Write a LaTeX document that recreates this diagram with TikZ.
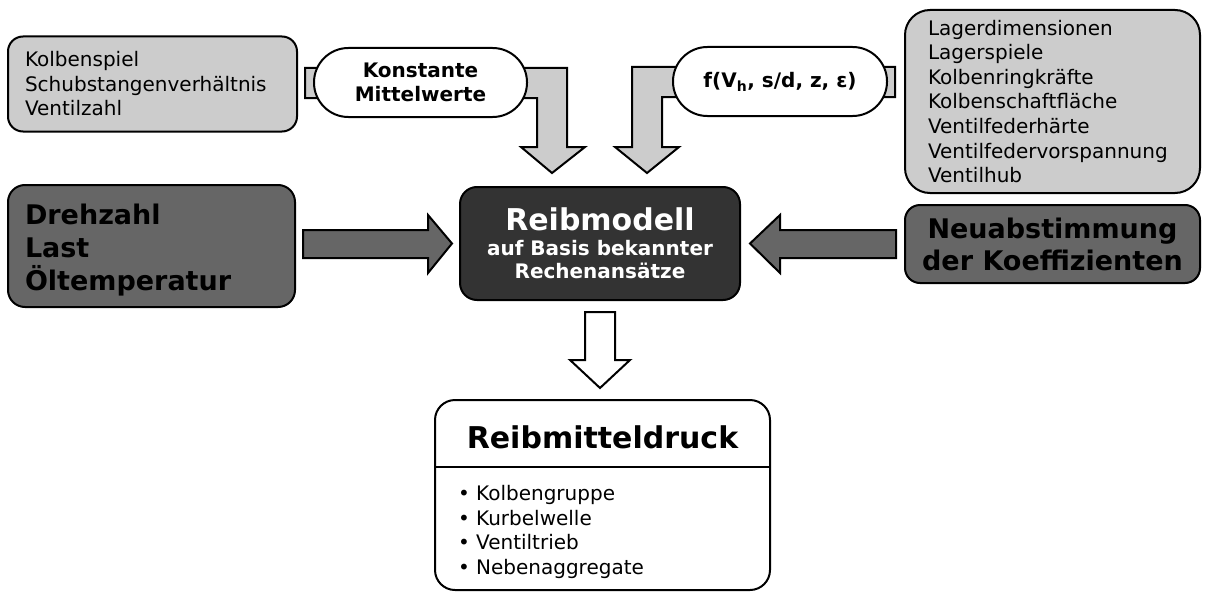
\documentclass[tikz,border=0pt]{standalone}
\usepackage{fontspec}
\setmainfont{DejaVu Sans}
\usetikzlibrary{calc}
\definecolor{lgray}{HTML}{CCCCCC}
\definecolor{mgray}{HTML}{666666}
\definecolor{dgray}{HTML}{333333}
\begin{document}
\begin{tikzpicture}[x=0.75pt,y=-0.75pt,line width=1.5pt,line join=miter,
  box/.style={draw=black,rectangle,inner ysep=0pt},
  smalltxt/.style={font=\fontsize{15}{18.4}\selectfont},
  bigtxt/.style={font=\bfseries\fontsize{20.25}{24.75}\selectfont},
  pill/.style={draw=black,fill=white,rectangle,minimum height=51.75pt,rounded corners=25.8pt,align=center,font=\bfseries\fontsize{15}{18}\selectfont,inner sep=0pt},
  blockarrow/.style={draw=black,line width=1.5pt,line join=miter}]
\useasboundingbox (0,0) rectangle (1205,592);

% top bent arrows (behind the pills)
\draw[blockarrow,fill=lgray] (305,68) -- (567,68) -- (567,147) -- (585,147) -- (552,173) -- (521,147) -- (537,147) -- (537,98) -- (305,98) -- cycle;
\draw[blockarrow,fill=lgray] (895,67) -- (632,67) -- (632,147) -- (615,147) -- (647,173) -- (679,147) -- (662,147) -- (662,97) -- (895,97) -- cycle;

% boxes
\node[box,fill=lgray,rounded corners=11.25pt,minimum width=216.75pt,minimum height=71.25pt,text width=191.25pt,inner xsep=12.75pt,align=left,smalltxt] (kolben) at (152.5,84)
  {Kolbenspiel\\Schubstangenverhältnis\\Ventilzahl};
\node[box,fill=lgray,rounded corners=18.75pt,minimum width=221.25pt,minimum height=137.25pt,text width=186.75pt,inner xsep=17.25pt,align=left,smalltxt] (lager) at (1052.5,101.5)
  {Lagerdimensionen\\Lagerspiele\\Kolbenringkräfte\\Kolbenschaftfläche\\Ventilfederhärte\\Ventilfedervorspannung\\Ventilhub};

\node[pill,minimum width=159.75pt] (konst) at (420.5,82.5) {Konstante\\Mittelwerte};
\node[pill,minimum width=160.5pt] (func) at (780,81.5) {f(V\textsubscript{h}, s/d, z, ε)};

\node[box,fill=mgray,rounded corners=12.75pt,minimum width=215.25pt,minimum height=91.5pt,text width=189.75pt,inner xsep=12.75pt,align=left,bigtxt] (drehzahl) at (151.5,246)
  {\rule{0pt}{21.4pt}Drehzahl\\Last\\Öltemperatur};
\node[box,fill=mgray,rounded corners=11.25pt,minimum width=221.25pt,minimum height=58.5pt,align=center,font=\bfseries\fontsize{20.25}{24}\selectfont] (neu) at (1052.5,244)
  {Neuabstimmung\\der Koeffizienten};

\node[box,fill=dgray,text=white,rounded corners=12.75pt,minimum width=210pt,minimum height=84.75pt,align=center,font=\bfseries\fontsize{15}{17.25}\selectfont] (reib) at (600,243.5)
  {{\fontsize{22.5}{25}\selectfont Reibmodell}\\[1.5pt]auf Basis bekannter\\Rechenansätze};

% side arrows
\draw[blockarrow,fill=mgray] (303,230) -- (428,230) -- (428,215) -- (452,243.5) -- (428,273) -- (428,258) -- (303,258) -- cycle;
\draw[blockarrow,fill=mgray] (896,230) -- (780,230) -- (780,215) -- (750,243.5) -- (780,273) -- (780,258) -- (896,258) -- cycle;

% down arrow
\draw[blockarrow,fill=white] (585,312) -- (615,312) -- (615,360) -- (630,360) -- (600,388) -- (570,360) -- (585,360) -- cycle;

% result box
\node[box,fill=white,rounded corners=15pt,minimum width=251.25pt,minimum height=142.5pt] (res) at (602.5,495) {};
\draw (res.west |- 0,467) -- (res.east |- 0,467);
\node[anchor=base,inner sep=0pt,font=\bfseries\fontsize{22.5}{27}\selectfont] (restitle) at (602.5,448) {Reibmitteldruck};
\node[anchor=west,inner sep=0pt,align=left,font=\fontsize{15}{18.5}\selectfont] (reslist) at (457,532)
  {• Kolbengruppe\\• Kurbelwelle\\• Ventiltrieb\\• Nebenaggregate};
\end{tikzpicture}
\end{document}
